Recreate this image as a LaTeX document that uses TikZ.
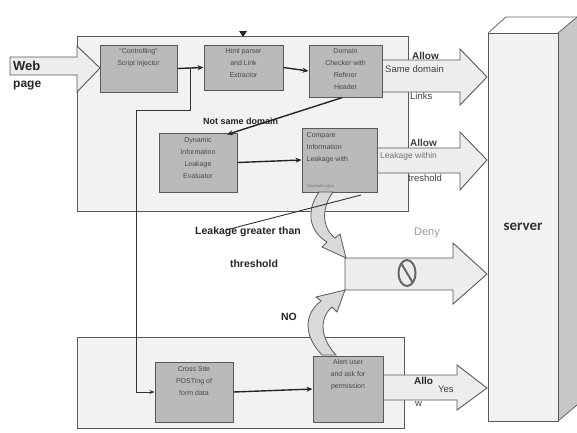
\documentclass[tikz,border=0pt]{standalone}
\usepackage{fontspec}
\setmainfont{Liberation Sans}
\newfontfamily\carl{Carlito}
\usetikzlibrary{arrows.meta,calc}
\begin{document}
\begin{tikzpicture}[x=1pt,y=-1pt,
  bigbox/.style={draw=black!65, fill=black!5, line width=1pt},
  procbox/.style={draw=black!65, fill=black!27, line width=1pt, inner sep=0pt},
  ptext/.style={anchor=north, align=center, inner sep=0pt, text=black!72,
    font=\fontsize{7}{12}\selectfont},
  blockarrow/.style={draw=black!65, fill=black!7, line width=0.9pt, line join=miter},
  curvearrow/.style={draw=black!65, fill=black!15, line width=0.8pt},
  conn/.style={draw=black!85, line width=1.4pt, -{Stealth[length=6pt,width=5pt]}},
  thinconn/.style={draw=black!80, line width=0.9pt},
  blabel/.style={font=\bfseries\fontsize{10}{12}\selectfont, text=black!85, inner sep=0pt},
  rlabel/.style={font=\fontsize{9.5}{11}\selectfont, text=black!75, inner sep=0pt}
]
\useasboundingbox (0,0) rectangle (577,432);
\clip (0,0) rectangle (577,432);
\fill[white] (0,0) rectangle (577,432);

% server
\fill[black!22] (558,33) -- (577,17) -- (577,405) -- (558,421) -- cycle;
\draw[black!60, line width=0.8pt] (488,33) -- (506,17) -- (580,17);
\draw[black!60, line width=0.8pt] (558,33) -- (577,17);
\draw[black!60, line width=0.8pt] (558,421) -- (577,405);
\node[draw=black!65, fill=black!5, line width=1pt, minimum width=70pt, minimum height=388pt, inner sep=0pt,
  font=\carl\bfseries\fontsize{15}{17}\selectfont, text=black!80] (server) at (523,227) {server};

% big boxes
\node[bigbox, minimum width=331pt, minimum height=175pt, inner sep=0pt] (upper) at (242.5,123.5) {};
\node[bigbox, minimum width=327pt, minimum height=91pt, inner sep=0pt] (lower) at (240.5,382.5) {};
\fill[black!85] (239,31) -- (247,31) -- (243,37) -- cycle;

% web page arrow
\draw[blockarrow] (10,57) -- (77,57) -- (77,46) -- (100,68) -- (77,92) -- (77,75) -- (10,75) -- cycle;
\node[font=\bfseries\fontsize{13}{15}\selectfont, text=black!85, anchor=west, inner sep=0pt] (web) at (13,66) {Web};
\node[font=\bfseries\fontsize{12}{14}\selectfont, text=black!85, anchor=west, inner sep=0pt] (page) at (13,86) {page};

% allow arrows
\draw[blockarrow] (382,60) -- (460,60) -- (460,49) -- (487,77) -- (460,105) -- (460,92) -- (382,92) -- cycle;
\draw[blockarrow] (377,148) -- (460,148) -- (460,132) -- (487,160) -- (460,190) -- (460,173) -- (377,173) -- cycle;
\draw[blockarrow] (383,375) -- (457,375) -- (457,365) -- (487,388) -- (457,410) -- (457,400) -- (383,400) -- cycle;
% deny arrow
\draw[blockarrow] (345,258) -- (453,258) -- (453,243) -- (487,274) -- (453,304) -- (453,290) -- (345,290) -- cycle;

% process boxes
\node[procbox, minimum width=77pt, minimum height=47pt] (inj) at (138.5,68.5) {};
\node[ptext] (injt) at ([yshift=-4pt]inj.north) {“Controlling”\\Script injector};
\node[procbox, minimum width=79pt, minimum height=45pt] (html) at (243.5,67.5) {};
\node[ptext] (htmlt) at ([yshift=-4pt]html.north) {Html parser\\and Link\\Extractor};
\node[procbox, minimum width=73pt, minimum height=52pt] (dom) at (345.5,71) {};
\node[ptext] (domt) at ([yshift=-4pt]dom.north) {Domain\\Checker with\\Referer\\Header};
\node[procbox, minimum width=78pt, minimum height=59pt] (dyn) at (198,162.5) {};
\node[ptext] (dynt) at ([yshift=-5pt]dyn.north) {Dynamic\\Information\\Leakage\\Evaluator};
\node[procbox, minimum width=75pt, minimum height=64pt] (cmp) at (339.5,160) {};
\node[ptext, align=left, anchor=north west] (cmpt) at ([xshift=5pt,yshift=-5pt]cmp.north west) {Compare\\Information\\Leakage with};
\node[anchor=south west, inner sep=0pt, text=black!55, font=\fontsize{4}{5}\selectfont] (cmpt2) at ([xshift=5pt,yshift=5pt]cmp.south west) {threshold value};
\node[procbox, minimum width=78pt, minimum height=60pt] (cross) at (194,392) {};
\node[ptext] (crosst) at ([yshift=-5pt]cross.north) {Cross Site\\POSTing of\\form data};
\node[procbox, minimum width=70pt, minimum height=66pt] (alert) at (348,389) {};
\node[ptext] (alertt) at ([yshift=-4pt]alert.north) {Alert user\\and ask for\\permission};

% arrow labels
\node[rlabel, anchor=west] (sd) at (385,69) {Same domain};
\node[blabel, anchor=west, text=black!80] (al1) at (412,56) {Allow};
\node[rlabel, anchor=west] (lk) at (410,96) {Links};
\node[rlabel, anchor=west, text=black!55, font=\fontsize{8.5}{10}\selectfont] (lw) at (380,156) {Leakage within};
\node[blabel, anchor=west, text=black!75] (al2) at (410,143) {Allow};
\node[rlabel, anchor=west] (th2) at (408,178) {treshold};
\node[font=\fontsize{11}{13}\selectfont, text=black!40, inner sep=0pt] (deny) at (427,233) {Deny};
\node[blabel, anchor=west] (al3) at (414,381) {Allo};
\node[rlabel, anchor=west] (yes) at (438,389) {Yes};
\node[rlabel, anchor=west] (w3) at (415,404) {w};
% no symbol
\draw[black!60, line width=2pt] (407,273) ellipse [x radius=8.5pt, y radius=13pt];
\draw[black!60, line width=2pt] (401,263) -- (413,283);

% connectors
\node[blabel, font=\bfseries\fontsize{9}{11}\selectfont, anchor=west] (nsd) at (203,121) {Not same domain};
\draw[conn] (inj.east) -- (html.west);
\draw[conn] (html.east) -- (dom.west);
\draw[conn] ([xshift=-3pt]dom.south) -- ([xshift=29pt,yshift=-2pt]dyn.north);
\draw[conn] (dyn.east) -- (cmp.west);
\coordinate (j1) at (190,68);
\draw[thinconn, -{Stealth[length=5pt,width=4pt]}] (j1) -- (190,110) -- (136,110) |- (cross.west);
\draw[conn] (cross.east) -- (alert.west);

% curved arrows
\draw[curvearrow] (319,192) .. controls (305,212) and (310,232) .. (327,242) -- (322,247) -- (346,258) -- (340,234) -- (335,238) .. controls (322,228) and (321,208) .. (333,192) -- cycle;
\draw[curvearrow] (322,355) .. controls (303,335) and (304,314) .. (321,301) -- (316,297) -- (345,290) -- (337,312) -- (332,307) .. controls (319,318) and (320,338) .. (336,355) -- cycle;

% labels of decision
\node[blabel, font=\bfseries\fontsize{10.5}{12}\selectfont] (lgt) at (248,232) {Leakage greater than};
\draw[thinconn] (226,230) -- (361,195);
\node[blabel, font=\bfseries\fontsize{10.5}{12}\selectfont] (thr) at (254,264) {threshold};
\node[blabel, font=\bfseries\fontsize{10.5}{12}\selectfont] (no) at (289,317) {NO};
\end{tikzpicture}
\end{document}
